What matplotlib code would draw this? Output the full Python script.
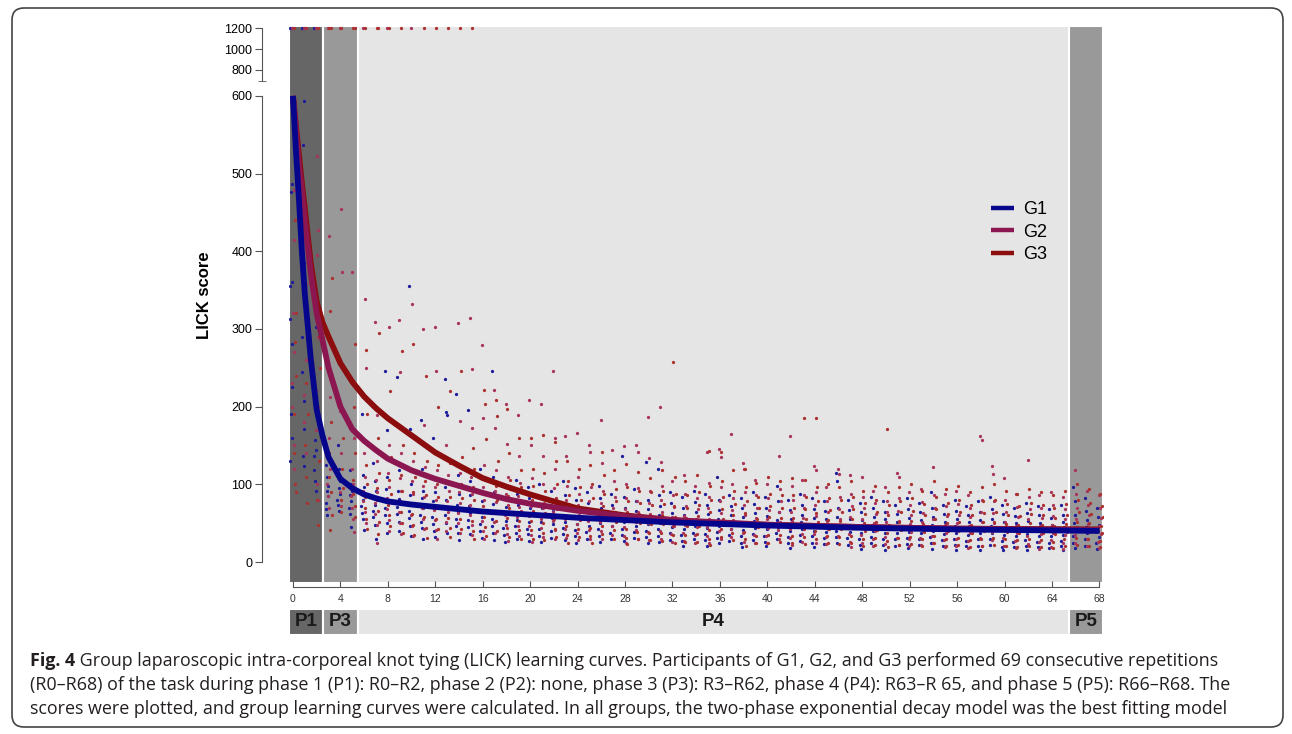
import matplotlib
matplotlib.use("Agg")
import matplotlib.pyplot as plt
import numpy as np
from matplotlib.patches import FancyBboxPatch
from matplotlib.transforms import IdentityTransform

# ---- data ---------------------------------------------------------------
groups = ["G1", "G2", "G3"]
group_colors = ["#06068c", "#8c1650", "#8b0d0d"]
dot_colors = ["#1c1c9c", "#a8345c", "#ad3030"]

# fitted learning curves, sampled at these repetitions
curve_x = [0, 0.25, 0.5, 0.75, 1, 1.5, 2, 2.5, 3, 4, 5, 6, 7, 8, 10, 12, 14, 16,
           18, 20, 24, 28, 32, 36, 40, 48, 56, 68]
curve_g1 = [600, 530, 468, 400, 345, 262, 196, 162, 135, 107, 95, 87, 82, 78, 74,
            71, 68, 65, 63, 61, 57, 54, 51, 49, 47, 44, 42, 40]
curve_g2 = [600, 555, 510, 478, 440, 372, 320, 285, 250, 200, 171, 156, 144, 133,
            118, 107, 98, 89, 81, 75, 66, 59, 54, 51, 48, 45, 43, 41]
curve_g3 = [600, 562, 525, 488, 455, 385, 335, 308, 290, 256, 232, 213, 198, 185,
            163, 141, 124, 108, 97, 87, 69, 60, 54, 50, 48, 45, 43, 42]

# individual LICK scores per repetition (R0..R68); 1200 = capped
scores_g1 = [
    [1200, 1200, 486, 476, 360, 355, 313, 280, 225, 190, 160, 130],
    [1200, 1200, 593, 537, 385, 289, 245, 207, 171, 136, 123],
    [1200, 348, 303, 157, 144, 136, 119, 104, 92],
    [125, 110, 98, 92, 85, 76, 68, 60],
    [150, 120, 104, 95, 88, 80, 74, 66],
    [118, 100, 92, 86, 78, 70, 62, 45],
    [190, 112, 96, 88, 80, 72, 63, 55, 41],
    [128, 104, 92, 82, 74, 66, 58, 48, 30],
    [246, 170, 110, 94, 80, 70, 60, 50, 38],
    [238, 175, 118, 92, 81, 71, 62, 52, 40],
    [355, 171, 100, 86, 76, 66, 57, 46, 33],
    [183, 120, 92, 82, 70, 61, 52, 44, 30],
    [160, 108, 90, 78, 68, 58, 49, 40, 32],
    [236, 193, 189, 96, 80, 69, 60, 50, 38],
    [216, 112, 88, 74, 65, 56, 47, 38, 28],
    [196, 104, 86, 72, 63, 54, 45, 36],
    [120, 92, 78, 66, 58, 49, 40, 31],
    [246, 110, 90, 75, 64, 55, 46, 37, 28],
    [98, 84, 71, 62, 53, 44, 35, 26],
    [106, 88, 74, 63, 54, 46, 38, 30],
    [96, 82, 70, 61, 52, 43, 36, 27],
    [100, 84, 70, 60, 51, 43, 34, 26],
    [92, 78, 66, 57, 49, 40, 31],
    [104, 86, 72, 61, 52, 44, 36, 28],
    [95, 80, 68, 58, 49, 41, 33, 24],
    [90, 76, 64, 55, 47, 39, 30],
    [98, 82, 69, 58, 50, 42, 34, 26],
    [88, 74, 62, 54, 46, 38, 29],
    [136, 84, 70, 60, 51, 43, 35, 27],
    [94, 79, 66, 56, 47, 39, 31],
    [129, 80, 68, 58, 49, 40, 32, 24],
    [120, 86, 72, 60, 50, 42, 34, 26],
    [90, 76, 63, 53, 45, 37, 28],
    [84, 70, 60, 51, 43, 35, 27, 20],
    [92, 77, 64, 54, 46, 38, 30],
    [88, 74, 62, 52, 44, 36, 28, 21],
    [110, 80, 67, 56, 47, 39, 31, 24],
    [86, 72, 60, 51, 43, 35, 27],
    [82, 69, 58, 49, 41, 33, 25, 19],
    [90, 75, 63, 53, 44, 36, 28],
    [84, 70, 59, 50, 42, 34, 26, 20],
    [98, 78, 64, 54, 45, 37, 29],
    [80, 67, 56, 48, 40, 32, 24, 18],
    [88, 73, 61, 51, 43, 35, 27],
    [82, 68, 57, 48, 40, 33, 25, 19],
    [78, 66, 56, 47, 39, 31, 23],
    [115, 104, 70, 58, 48, 40, 32, 24],
    [80, 67, 56, 47, 39, 31, 22],
    [76, 64, 54, 45, 38, 30, 22, 17],
    [84, 70, 58, 48, 40, 32, 24],
    [78, 65, 55, 46, 38, 30, 22, 16],
    [74, 62, 52, 44, 37, 29, 21],
    [82, 68, 57, 47, 39, 31, 23, 18],
    [76, 64, 54, 45, 37, 29, 22],
    [90, 70, 58, 48, 40, 32, 24, 17],
    [74, 62, 52, 44, 36, 28, 20],
    [80, 66, 55, 46, 38, 30, 22, 16],
    [72, 61, 51, 43, 35, 27, 20],
    [78, 65, 54, 45, 37, 29, 21, 15],
    [84, 68, 56, 46, 38, 30, 22],
    [74, 62, 52, 43, 35, 27, 19, 15],
    [70, 59, 50, 42, 34, 26, 19],
    [76, 63, 53, 44, 36, 28, 20, 16],
    [72, 60, 50, 42, 34, 26, 19],
    [68, 57, 48, 40, 33, 25, 18],
    [74, 61, 51, 43, 35, 27, 20, 15],
    [96, 78, 60, 50, 41, 33, 25, 18],
    [82, 66, 54, 45, 37, 29, 21],
    [70, 58, 48, 40, 32, 24, 17],
]

scores_g2 = [
    [1200, 479, 415, 320, 270, 230, 200, 150, 120],
    [1200, 459, 358, 333, 260, 215, 180, 140],
    [1200, 522, 427, 395, 289, 220, 170, 100, 80],
    [1200, 420, 213, 160, 120, 100, 85, 70],
    [1200, 454, 373, 195, 140, 110, 90, 72],
    [373, 230, 160, 120, 100, 85, 70, 55, 39],
    [1200, 339, 250, 140, 110, 92, 78, 64, 50],
    [309, 189, 130, 105, 90, 76, 62, 48, 25],
    [1200, 303, 150, 115, 96, 82, 68, 54, 40],
    [311, 244, 140, 108, 92, 78, 64, 50, 36],
    [1200, 332, 130, 104, 88, 74, 60, 46, 34],
    [300, 177, 122, 98, 84, 70, 56, 42],
    [302, 246, 118, 96, 80, 67, 54, 41, 30],
    [150, 112, 92, 78, 65, 52, 40],
    [308, 181, 115, 90, 76, 63, 50, 38],
    [314, 248, 173, 110, 88, 74, 61, 48, 35],
    [279, 185, 125, 96, 80, 66, 53, 40, 30],
    [222, 172, 118, 92, 77, 64, 51, 38],
    [203, 152, 110, 88, 74, 61, 48, 36, 27],
    [189, 137, 102, 85, 71, 58, 46, 34],
    [209, 150, 108, 86, 72, 59, 47, 35, 26],
    [203, 137, 100, 82, 69, 56, 44, 32],
    [246, 160, 120, 95, 78, 65, 53, 41, 30],
    [162, 137, 98, 80, 67, 55, 43, 31],
    [166, 110, 88, 73, 61, 49, 38, 28],
    [151, 141, 96, 78, 65, 53, 41, 30],
    [183, 127, 92, 76, 63, 51, 40, 29],
    [144, 104, 84, 70, 58, 46, 35],
    [149, 100, 82, 68, 56, 45, 34, 25],
    [151, 141, 95, 78, 64, 52, 41, 30],
    [187, 134, 92, 76, 62, 50, 39, 28],
    [200, 129, 98, 80, 65, 52, 40, 29],
    [104, 86, 71, 58, 47, 36, 26],
    [112, 88, 72, 59, 48, 37, 27],
    [98, 82, 68, 56, 45, 35, 25],
    [141, 102, 84, 69, 56, 45, 34, 24],
    [145, 135, 96, 78, 63, 51, 40, 29],
    [165, 100, 82, 67, 54, 43, 32],
    [128, 120, 90, 74, 60, 48, 37, 26],
    [106, 86, 70, 57, 46, 35, 25],
    [100, 82, 67, 55, 44, 34, 24],
    [137, 94, 78, 64, 52, 41, 30],
    [162, 98, 80, 65, 53, 42, 31, 22],
    [106, 86, 70, 57, 46, 36, 26],
    [124, 118, 90, 73, 59, 47, 36, 25],
    [96, 79, 65, 53, 42, 32, 23],
    [120, 113, 84, 68, 55, 44, 33],
    [112, 88, 72, 58, 47, 36, 26, 19],
    [109, 84, 69, 56, 45, 35, 25],
    [92, 76, 62, 50, 40, 30, 21],
    [96, 78, 64, 52, 42, 32, 23],
    [115, 110, 82, 66, 53, 42, 31, 22],
    [90, 74, 60, 49, 39, 29, 20],
    [94, 77, 63, 51, 41, 31, 22],
    [122, 86, 70, 56, 45, 34, 24],
    [88, 72, 59, 48, 38, 28, 19],
    [92, 75, 61, 50, 40, 30, 21],
    [86, 70, 58, 47, 37, 27, 18],
    [162, 157, 80, 64, 52, 41, 31, 21],
    [124, 113, 78, 63, 50, 39, 28],
    [108, 80, 65, 52, 41, 31, 21],
    [88, 71, 58, 47, 37, 27, 18],
    [131, 84, 68, 55, 44, 33, 23],
    [86, 70, 57, 46, 36, 26, 17],
    [90, 73, 59, 48, 38, 28, 19],
    [84, 68, 56, 45, 35, 25, 17],
    [118, 88, 70, 56, 45, 35, 25],
    [92, 74, 60, 49, 39, 29, 20],
    [86, 70, 57, 46, 36, 26, 18],
]

scores_g3 = [
    [1200, 440, 320, 283, 240, 190, 140, 100, 90],
    [1200, 420, 300, 230, 190, 150, 110, 76],
    [1200, 289, 250, 200, 130, 80, 48],
    [1200, 1200, 365, 323, 180, 140, 110, 90, 60, 41],
    [1200, 250, 160, 120, 95, 80, 65],
    [1200, 1200, 280, 200, 140, 105, 88, 72, 58],
    [1200, 273, 190, 125, 100, 84, 70, 56, 42],
    [1200, 1200, 295, 160, 115, 95, 80, 66, 52, 36],
    [1200, 220, 135, 105, 88, 74, 60, 46],
    [1200, 271, 150, 112, 92, 78, 64, 50, 38],
    [280, 140, 110, 90, 76, 62, 48, 35],
    [1200, 240, 130, 104, 86, 72, 58, 44, 31],
    [1200, 200, 125, 100, 84, 70, 56, 42],
    [1200, 220, 128, 100, 84, 70, 57, 44, 32],
    [1200, 246, 135, 100, 82, 68, 55, 42],
    [1200, 147, 120, 96, 80, 66, 53, 40, 29],
    [222, 203, 158, 110, 88, 72, 58, 45, 33],
    [209, 188, 130, 98, 80, 66, 53, 40],
    [197, 140, 105, 85, 70, 57, 44, 32],
    [160, 118, 96, 80, 66, 53, 41, 30],
    [160, 120, 98, 80, 66, 53, 41, 30],
    [163, 115, 92, 76, 63, 50, 38, 28],
    [155, 130, 100, 82, 68, 55, 43, 32],
    [130, 104, 86, 71, 58, 46, 35, 25],
    [120, 96, 80, 66, 54, 43, 32],
    [125, 100, 82, 68, 56, 44, 33, 24],
    [141, 112, 88, 72, 59, 47, 36],
    [118, 94, 78, 64, 52, 41, 30],
    [126, 96, 79, 65, 53, 42, 31, 23],
    [116, 92, 76, 62, 50, 39, 29],
    [108, 90, 74, 61, 49, 38, 28],
    [118, 92, 75, 61, 49, 38, 27],
    [258, 110, 88, 72, 58, 46, 35, 25],
    [104, 86, 70, 57, 46, 35, 26],
    [112, 90, 73, 59, 47, 36, 26],
    [143, 98, 80, 65, 52, 41, 30, 22],
    [141, 104, 84, 68, 55, 43, 32],
    [118, 92, 75, 61, 49, 38, 28],
    [120, 96, 78, 63, 50, 39, 29, 21],
    [102, 84, 69, 56, 45, 34, 25],
    [110, 88, 72, 58, 46, 35, 25],
    [104, 86, 70, 57, 46, 35, 26],
    [108, 86, 70, 57, 45, 34, 24],
    [186, 106, 84, 68, 55, 43, 32, 23],
    [186, 96, 78, 63, 51, 40, 29],
    [100, 82, 67, 54, 43, 33, 24],
    [96, 80, 65, 53, 42, 32, 23],
    [104, 84, 68, 55, 44, 33, 24],
    [92, 76, 62, 50, 40, 30, 21],
    [98, 80, 65, 52, 41, 31, 22],
    [171, 90, 74, 60, 48, 37, 27, 19],
    [96, 78, 64, 52, 41, 31, 22],
    [100, 82, 66, 53, 42, 32, 23],
    [92, 75, 61, 49, 39, 29, 20],
    [104, 84, 68, 55, 44, 33, 24],
    [94, 76, 62, 50, 40, 30, 21],
    [98, 80, 65, 52, 41, 31, 22],
    [90, 74, 60, 48, 38, 28, 19],
    [96, 78, 63, 51, 40, 30, 21],
    [100, 80, 65, 52, 41, 31, 22],
    [92, 75, 61, 49, 39, 29, 20],
    [88, 72, 59, 48, 38, 28, 19],
    [94, 76, 62, 50, 40, 30, 21],
    [90, 73, 60, 48, 38, 28, 19],
    [86, 70, 57, 46, 36, 26, 18],
    [92, 75, 61, 49, 39, 29, 20],
    [100, 80, 64, 51, 41, 31, 22],
    [94, 76, 62, 50, 40, 30, 21],
    [88, 72, 58, 47, 37, 27, 19],
]

# phases (repetition ranges incl. bar padding)
phase_labels = ["P1", "P3", "P4", "P5"]
phase_start = [-0.3, 2.5, 5.45, 65.45]
phase_end = [2.5, 5.45, 65.45, 68.3]
phase_colors = ["#666666", "#999999", "#e5e5e5", "#999999"]

caption_lines = [
    "Group laparoscopic intra-corporeal knot tying (LICK) learning curves. Participants of G1, G2, and G3 performed 69 consecutive repetitions",
    "(R0\u2013R68) of the task during phase 1 (P1): R0\u2013R2, phase 2 (P2): none, phase 3 (P3): R3\u2013R62, phase 4 (P4): R63\u2013R 65, and phase 5 (P5): R66\u2013R68. The",
    "scores were plotted, and group learning curves were calculated. In all groups, the two-phase exponential decay model was the best fitting model",
]


# broken y axis: linear up to 600, compressed above
def fwd(y):
    y = np.asarray(y, float)
    return np.where(y <= 600, y, np.where(y <= 700, 600 + (y - 600) * 0.2, 620 + (y - 700) * 0.134))


def inv(f):
    f = np.asarray(f, float)
    return np.where(f <= 600, f, np.where(f <= 620, 600 + (f - 600) / 0.2, 700 + (f - 620) / 0.134))


plt.rcParams["font.family"] = ["Liberation Sans", "DejaVu Sans"]
W, H = 1292, 734
fig = plt.figure(figsize=(W / 100, H / 100), dpi=100)

rect = [289.4 / W, 151 / H, 813.6 / W, 557 / H]
ax = fig.add_axes(rect)
ax.set_yscale("function", functions=(fwd, inv))
ax.set_xlim(-0.3, 68.3)
ax.set_ylim(-27, 1222)

for s, e, c in zip(phase_start, phase_end, phase_colors):
    ax.axvspan(s, e, color=c, ec="white", lw=1.5, zorder=0)

# scatter
offsets = [-0.14, 0.02, 0.16]
wiggle = [-0.08, 0.04, 0.1, -0.02, 0.07, -0.11]
for gi, scores in enumerate([scores_g1, scores_g2, scores_g3]):
    xs, ys = [], []
    for rep, vals in enumerate(scores):
        for k, v in enumerate(vals):
            xs.append(rep + offsets[gi] + wiggle[k % len(wiggle)])
            ys.append(v)
    ax.scatter(xs, ys, s=5.5, marker="o", color=dot_colors[gi], lw=0, zorder=2)

# curves
curves = [curve_g1, curve_g2, curve_g3]
handles = []
for gi in [2, 1, 0]:
    ln, = ax.plot(curve_x, curves[gi], color=group_colors[gi], lw=4.2,
                  solid_capstyle="butt", zorder=3)
    handles.append(ln)
handles = handles[::-1]

leg = ax.legend(handles, groups, loc="center left", bbox_to_anchor=(0.842, 0.630),
                frameon=False, fontsize=13, handlelength=1.3, handletextpad=0.5,
                labelspacing=0.3)
for lh in leg.get_lines():
    lh.set_linewidth(3.2)

axis_col = "#555555"
for sp in ["top", "right"]:
    ax.spines[sp].set_visible(False)
ax.spines["left"].set_position(("outward", 19.7))
ax.spines["left"].set_bounds(0, 600)
ax.spines["left"].set_color(axis_col)
ax.spines["bottom"].set_position(("outward", 3))
ax.spines["bottom"].set_bounds(0, 68)
ax.spines["bottom"].set_color(axis_col)
ax.set_yticks(range(0, 601, 100))
ax.set_xticks(range(0, 69, 4))
ax.tick_params(axis="y", direction="out", length=5, color=axis_col, labelsize=9, pad=2)
ax.tick_params(axis="x", direction="in", length=4, color=axis_col, labelsize=7.5,
               labelcolor="#333333", pad=5)
ax.set_ylabel("LICK score", fontsize=12, fontweight="bold")
ax.yaxis.set_label_coords(-0.095, 0.517)

# upper axis segment
ax2 = fig.add_axes(rect)
ax2.set_yscale("function", functions=(fwd, inv))
ax2.set_xlim(ax.get_xlim())
ax2.set_ylim(ax.get_ylim())
ax2.patch.set_visible(False)
for sp in ["top", "right", "bottom"]:
    ax2.spines[sp].set_visible(False)
ax2.spines["left"].set_position(("outward", 19.7))
ax2.spines["left"].set_bounds(694, 1200)
ax2.spines["left"].set_color(axis_col)
ax2.set_xticks([])
ax2.set_yticks([800, 1000, 1200])
ax2.set_yticks([694], minor=True)
ax2.tick_params(axis="y", which="major", direction="out", length=5, color=axis_col,
                labelsize=9, pad=2)
ax2.tick_params(axis="y", which="minor", direction="inout", length=6, color=axis_col)

# phase label bar
axp = fig.add_axes([289.4 / W, 99 / H, 813.6 / W, 26 / H])
axp.set_xlim(ax.get_xlim())
axp.set_ylim(0, 1)
axp.axis("off")
for lab, s, e, c in zip(phase_labels, phase_start, phase_end, phase_colors):
    axp.axvspan(s, e, color=c, ec="white", lw=1.5)
    axp.text((s + e) / 2, 0.5, lab, ha="center", va="center", fontsize=13.5,
             fontweight="bold", color="#1a1a1a")

# caption
cap_font = ["Open Sans", "DejaVu Sans"]
cap_size = 12.9
t0 = fig.text(30 / W, 1 - 661 / H, "Fig. 4", fontsize=cap_size, fontweight="bold",
              family=cap_font, va="center", color="#231f20")
plt.annotate(" " + caption_lines[0], xy=(1, 0.5), xycoords=t0, va="center",
             fontsize=cap_size, family=cap_font, color="#231f20")
for i, line in enumerate(caption_lines[1:], start=1):
    fig.text(30 / W, 1 - (661 + 24 * i) / H, line, fontsize=cap_size, family=cap_font,
             va="center", color="#231f20")

# rounded frame
frame = FancyBboxPatch((12, 7), 1271, 719, boxstyle="round,pad=0,rounding_size=12",
                       transform=IdentityTransform(), fill=False, ec="#444444", lw=1.2)
fig.patches.append(frame)

fig.savefig("out.png", dpi=100)
plt.close(fig)
